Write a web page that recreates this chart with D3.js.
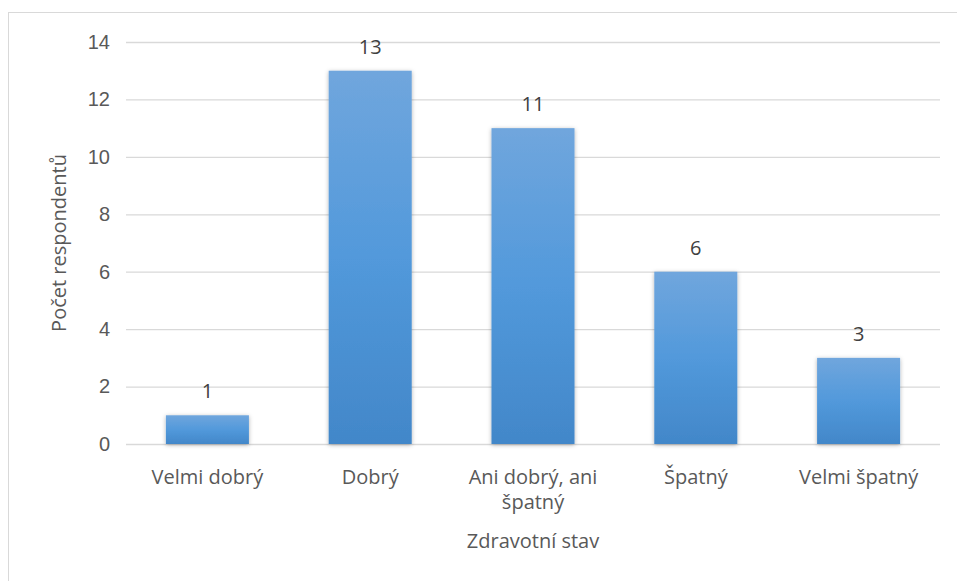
<!DOCTYPE html>
<html>
<head>
<meta charset="utf-8">
<script src="https://cdn.jsdelivr.net/npm/d3@7/dist/d3.min.js"></script>
<style>
  html, body { margin: 0; padding: 0; background: #fff; }
  svg { display: block; font-family: "Open Sans", "Noto Sans", sans-serif; }
</style>
</head>
<body>
<svg id="chart" width="957" height="581"></svg>
<script>
// Health status of respondents
const categories = ["Velmi dobrý", "Dobrý", "Ani dobrý, ani špatný", "Špatný", "Velmi špatný"];
const categoryLines = [["Velmi dobrý"], ["Dobrý"], ["Ani dobrý, ani", "špatný"], ["Špatný"], ["Velmi špatný"]];
const counts = [1, 13, 11, 6, 3];
const yTicks = [0, 2, 4, 6, 8, 10, 12, 14];
const xTitle = "Zdravotní stav";
const yTitle = "Počet respondentů";

const svg = d3.select("#chart");
const margin = { left: 126, right: 17, top: 42, bottom: 137 };
const W = 957, H = 581;
const fontSize = 20;

// outer chart frame
svg.append("rect")
  .attr("x", 8.5).attr("y", 12.5)
  .attr("width", W + 10).attr("height", H + 10)
  .attr("fill", "#fff").attr("stroke", "#d9d9d9").attr("stroke-width", 1);

const x = d3.scaleBand()
  .domain(categories)
  .range([margin.left, W - margin.right])
  .paddingInner(0.49).paddingOuter(0.245);

const y = d3.scaleLinear()
  .domain([0, 14])
  .range([H - margin.bottom, margin.top]);

const defs = svg.append("defs");
const grad = defs.append("linearGradient")
  .attr("id", "barGrad").attr("x1", 0).attr("y1", 0).attr("x2", 0).attr("y2", 1);
grad.append("stop").attr("offset", "0%").attr("stop-color", "#70a6dd");
grad.append("stop").attr("offset", "50%").attr("stop-color", "#5299db");
grad.append("stop").attr("offset", "100%").attr("stop-color", "#4287c9");

const shadow = defs.append("filter").attr("id", "barShadow")
  .attr("x", "-20%").attr("y", "-20%").attr("width", "140%").attr("height", "140%");
shadow.append("feDropShadow")
  .attr("dx", 0).attr("dy", 1).attr("stdDeviation", 2)
  .attr("flood-color", "#000").attr("flood-opacity", 0.3);

// horizontal gridlines
const yAxis = d3.axisLeft(y).tickValues(yTicks)
  .tickSize(-(W - margin.left - margin.right)).tickPadding(16);
const gy = svg.append("g")
  .attr("transform", `translate(${margin.left},0)`)
  .call(yAxis);
gy.select(".domain").remove();
gy.selectAll(".tick line").attr("stroke", "#d9d9d9").attr("stroke-width", 1.3);
gy.selectAll(".tick text")
  .attr("fill", "#595959").attr("font-size", fontSize);

// bars
svg.append("g").selectAll("rect.bar")
  .data(categories)
  .join("rect")
  .attr("class", "bar")
  .attr("x", d => x(d))
  .attr("width", x.bandwidth())
  .attr("y", (d, i) => y(counts[i]))
  .attr("height", (d, i) => y(0) - y(counts[i]))
  .attr("fill", "url(#barGrad)")
  .attr("filter", "url(#barShadow)");

// value labels
svg.append("g").selectAll("text.val")
  .data(categories)
  .join("text")
  .attr("class", "val")
  .attr("x", d => x(d) + x.bandwidth() / 2)
  .attr("y", (d, i) => y(counts[i]) - 17)
  .attr("text-anchor", "middle")
  .attr("fill", "#404040")
  .attr("font-size", fontSize)
  .text((d, i) => counts[i]);

// x-axis category labels
const xl = svg.append("g").selectAll("text.cat")
  .data(categories)
  .join("text")
  .attr("class", "cat")
  .attr("text-anchor", "middle")
  .attr("fill", "#595959")
  .attr("font-size", fontSize)
  .attr("transform", d => `translate(${x(d) + x.bandwidth() / 2},${y(0) + 40})`);
xl.selectAll("tspan")
  .data((d, i) => categoryLines[i])
  .join("tspan")
  .attr("x", 0)
  .attr("dy", (d, i) => i === 0 ? 0 : 25)
  .text(d => d);

// axis titles
svg.append("text")
  .attr("x", (margin.left + W - margin.right) / 2)
  .attr("y", 548)
  .attr("text-anchor", "middle")
  .attr("fill", "#595959")
  .attr("font-size", fontSize)
  .text(xTitle);

svg.append("text")
  .attr("transform", `translate(66,${(y(0) + y(14)) / 2}) rotate(-90)`)
  .attr("text-anchor", "middle")
  .attr("fill", "#595959")
  .attr("font-size", fontSize)
  .text(yTitle);
</script>
</body>
</html>
